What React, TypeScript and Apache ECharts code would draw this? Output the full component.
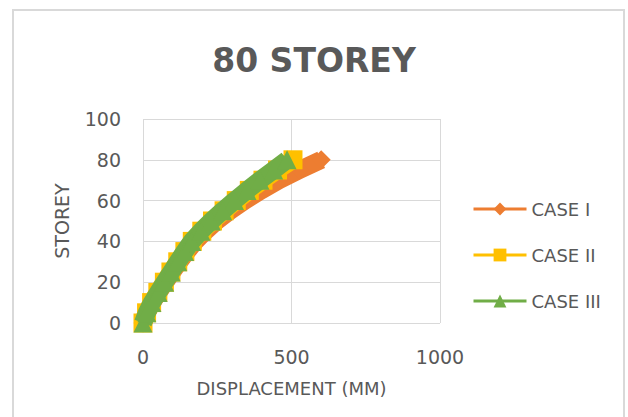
import React, { useEffect, useRef } from "react";
import * as echarts from "echarts";

const storeys = [0, 5, 10, 15, 20, 25, 30, 35, 40, 45, 50, 55, 60, 65, 70, 75, 80];
const case1 = [0, 13, 31, 52, 75, 98, 122, 148, 176, 210, 248, 293, 343, 398, 458, 527, 600];
const case2 = [0, 12, 29, 50, 72, 94, 117, 141, 166, 198, 234, 273, 314, 358, 404, 453, 505];
const case3 = [0, 13, 30, 51, 73, 95, 117, 140, 164, 195, 230, 268, 308, 350, 394, 440, 485];
const seriesNames = ["CASE I", "CASE II", "CASE III"];
const colors = ["#ED7D31", "#FFC000", "#70AD47"];
const symbols = ["diamond", "rect", "triangle"];

const FONT = "DejaVu Sans";

export default function App() {
  const ref = useRef<HTMLDivElement>(null);
  useEffect(() => {
    if (!ref.current) return;
    const chart = echarts.init(ref.current, undefined, { renderer: "svg" });
    const all = [case1, case2, case3];
    chart.setOption({
      animation: false,
      backgroundColor: "#ffffff",
      title: {
        text: "80 STOREY",
        left: "center",
        top: 39,
        textStyle: { fontFamily: FONT, fontSize: 33, fontWeight: "bold", color: "#595959" },
      },
      graphic: [
        {
          type: "rect",
          shape: { x: 13, y: 10, width: 611, height: 420 },
          style: { fill: "none", stroke: "#d9d9d9", lineWidth: 2 },
          silent: true,
        },
      ],
      legend: {
        orient: "vertical",
        left: 467,
        top: 195,
        itemWidth: 53,
        itemHeight: 16,
        itemGap: 28,
        data: seriesNames,
        lineStyle: { width: 3 },
        textStyle: { fontFamily: FONT, fontSize: 18, color: "#595959" },
      },
      grid: { left: 143, right: 188, top: 119, bottom: 94 },
      xAxis: {
        type: "value",
        min: 0,
        max: 1000,
        interval: 500,
        name: "DISPLACEMENT (MM)",
        nameLocation: "middle",
        nameGap: 56,
        nameTextStyle: { fontFamily: FONT, fontSize: 18, color: "#595959" },
        axisLine: { show: false },
        axisTick: { show: false },
        axisLabel: {
          fontFamily: FONT,
          fontSize: 19,
          color: "#595959",
          margin: 24,
          formatter: (v: number) => String(v),
        },
        splitLine: { show: true, lineStyle: { color: "#d9d9d9", width: 1 } },
      },
      yAxis: {
        type: "value",
        min: 0,
        max: 100,
        interval: 20,
        name: "STOREY",
        nameLocation: "middle",
        nameGap: 72,
        nameTextStyle: { fontFamily: FONT, fontSize: 19, color: "#595959" },
        axisLine: { show: false },
        axisTick: { show: false },
        axisLabel: {
          fontFamily: FONT,
          fontSize: 19,
          color: "#595959",
          margin: 22,
          formatter: (v: number) => String(v),
        },
        splitLine: { show: true, lineStyle: { color: "#d9d9d9", width: 1 } },
      },
      series: seriesNames.map((name, i) => ({
        name,
        type: "line",
        data: all[i].map((d, j) => [d, storeys[j]]),
        symbol: symbols[i],
        symbolSize: 19,
        showSymbol: true,
        lineStyle: { color: colors[i], width: 18, cap: "butt", join: "round" },
        itemStyle: { color: colors[i], borderWidth: 0 },
        emphasis: { disabled: true },
        z: 2 + i,
      })),
    });
    return () => chart.dispose();
  }, []);
  return (
    <div
      ref={ref}
      style={{ position: "absolute", left: 0, top: 0, width: 628, height: 417 }}
    />
  );
}
